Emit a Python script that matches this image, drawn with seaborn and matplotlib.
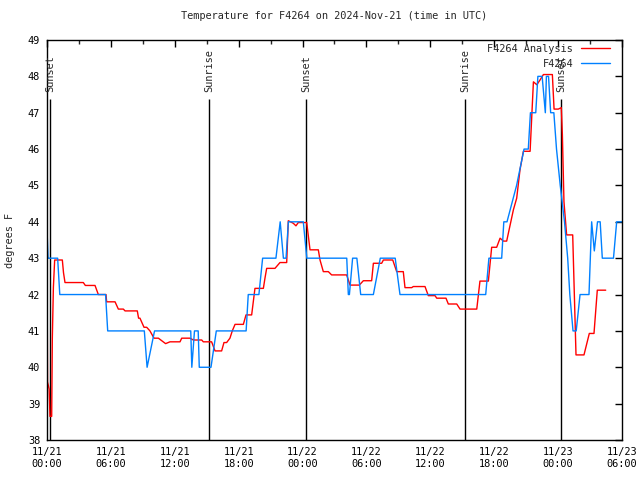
import matplotlib
matplotlib.use("Agg")
import matplotlib.pyplot as plt
import seaborn as sns
import pandas as pd

# ---- data (hours since 11/21 00:00 UTC) ----
analysis_hours = [0, 0.05, 0.2, 0.28, 0.44, 0.5, 0.6, 0.72, 1.44, 1.55, 1.69, 3.41, 3.6, 4.51, 4.82,
                  5.54, 5.6, 6.39, 6.7, 7.17, 7.33, 8.48, 8.6, 8.73, 9.11, 9.36, 9.67, 10.05, 10.46,
                  11.14, 11.55, 12.49, 12.65, 13.43, 13.74, 14.53, 14.68, 15.46, 15.78, 16.4, 16.62,
                  16.87, 17.18, 17.4, 17.66, 18.44, 18.69, 19.22, 19.53, 20.32, 20.47, 20.63, 21.41,
                  21.88, 22.51, 22.66, 23.13, 23.38, 23.6, 24.39, 24.7, 25.48, 25.64, 25.95, 26.42,
                  26.73, 28.14, 28.46, 29.33, 29.71, 30.49, 30.65, 31.43, 31.59, 32.47, 32.84, 33.46,
                  33.62, 34.25, 34.4, 35.5, 35.81, 36.44, 36.6, 37.47, 37.69, 38.48, 38.79, 40.36,
                  40.66, 41.45, 41.76, 42.23, 42.55, 42.86, 43.17, 43.8, 44.11, 44.42, 44.74, 45.37,
                  45.68, 46.0, 46.3, 46.62, 47.46, 47.62, 48.02, 48.3, 48.4, 48.55, 48.8, 49.37,
                  49.68, 50.43, 50.93, 51.37, 51.68, 52.47]
analysis_temps = [43.1, 39.6, 39.4, 38.65, 38.65, 40.8, 42.2, 42.95, 42.95, 42.6, 42.33, 42.33, 42.25,
                  42.25, 42.0, 42.0, 41.8, 41.8, 41.6, 41.6, 41.55, 41.55, 41.35, 41.35, 41.1, 41.1,
                  41.0, 40.8, 40.8, 40.65, 40.7, 40.7, 40.8, 40.8, 40.75, 40.75, 40.7, 40.7, 40.45,
                  40.45, 40.68, 40.68, 40.8, 41.0, 41.18, 41.18, 41.44, 41.44, 42.17, 42.17, 42.45,
                  42.72, 42.72, 42.88, 42.88, 44.03, 43.96, 43.89, 43.98, 43.98, 43.23, 43.23, 42.95,
                  42.63, 42.63, 42.54, 42.54, 42.26, 42.26, 42.38, 42.38, 42.86, 42.86, 42.95, 42.95,
                  42.63, 42.63, 42.19, 42.19, 42.22, 42.22, 41.97, 41.97, 41.9, 41.9, 41.74, 41.74,
                  41.6, 41.6, 42.37, 42.37, 43.3, 43.3, 43.55, 43.47, 43.47, 44.33, 44.65, 45.43,
                  45.94, 45.94, 47.85, 47.77, 47.9, 48.05, 48.05, 47.1, 47.1, 47.14, 46.4, 44.55,
                  43.64, 43.64, 40.34, 40.34, 40.93, 40.93, 42.12, 42.12]

obs_hours = [0, 0.1, 1.0, 1.2, 5.5, 5.7, 9.14, 9.4, 10.1, 13.5, 13.6, 13.85, 14.2, 14.3, 15.4, 15.9,
             18.7, 18.9, 19.9, 20.25, 21.5, 21.9, 22.2, 22.45, 22.67, 24.07, 24.4, 28.15, 28.3,
             28.4, 28.7, 29.1, 29.46, 30.65, 31.3, 32.7, 33.15, 41.2, 41.5, 42.7, 42.9, 43.2, 44.1,
             44.8, 45.2, 45.4, 45.9, 46.1, 46.5, 46.8, 46.9, 47.1, 47.3, 47.6, 47.85, 48.2, 48.6,
             48.9, 49.1, 49.4, 49.7, 50.06, 50.9, 51.15, 51.4, 51.7, 51.95, 52.15, 53.2, 53.5, 54.0]
obs_temps = [43.8, 43.0, 43.0, 42.0, 42.0, 41.0, 41.0, 40.0, 41.0, 41.0, 40.0, 41.0, 41.0, 40.0, 40.0,
             41.0, 41.0, 42.0, 42.0, 43.0, 43.0, 44.0, 43.0, 43.0, 44.0, 44.0, 43.0, 43.0, 42.0,
             42.0, 43.0, 43.0, 42.0, 42.0, 43.0, 43.0, 42.0, 42.0, 43.0, 43.0, 44.0, 44.0, 45.0,
             46.0, 46.0, 47.0, 47.0, 48.0, 48.0, 47.0, 48.0, 48.0, 47.0, 47.0, 46.0, 45.0, 44.0,
             43.0, 42.0, 41.0, 41.0, 42.0, 42.0, 44.0, 43.2, 44.0, 44.0, 43.0, 43.0, 44.0, 44.0]

sun_hours = [0.3, 15.24, 24.35, 39.28, 48.3]
sun_labels = ["Sunset", "Sunrise", "Sunset", "Sunrise", "Sunset"]

xtick_hours = [0, 6, 12, 18, 24, 30, 36, 42, 48, 54]
xtick_labels = ["11/21\n00:00", "11/21\n06:00", "11/21\n12:00", "11/21\n18:00", "11/22\n00:00",
                "11/22\n06:00", "11/22\n12:00", "11/22\n18:00", "11/23\n00:00", "11/23\n06:00"]
ytick_values = list(range(38, 50))

title = "Temperature for F4264 on 2024-Nov-21 (time in UTC)"

# ---- plotting ----
sns.set_style("white")
FS = 7.4
plt.rcParams["font.family"] = ["DejaVu Sans Mono"]
plt.rcParams["font.size"] = FS

df = pd.concat([
    pd.DataFrame({"hour": analysis_hours, "temp": analysis_temps, "series": "F4264 Analysis"}),
    pd.DataFrame({"hour": obs_hours, "temp": obs_temps, "series": "F4264"}),
])

fig = plt.figure(figsize=(6.4, 4.8), dpi=100)
ax = fig.add_axes([47 / 640, 1 - 440 / 480, 575 / 640, 400 / 480])

sns.lineplot(data=df, x="hour", y="temp", hue="series",
             palette={"F4264 Analysis": "#ff0000", "F4264": "#0080ff"},
             hue_order=["F4264 Analysis", "F4264"],
             linewidth=1.0, estimator=None, sort=False, ax=ax)

line_top = 47.38
for h, lab in zip(sun_hours, sun_labels):
    ax.vlines(h, 38, line_top, color="black", linewidth=1.0, zorder=1)
    ax.text(h, line_top + 0.2, lab, rotation=90, ha="center", va="bottom", fontsize=FS)

ax.set_xlim(0, 54)
ax.set_ylim(38, 49)
ax.set_xticks(xtick_hours)
ax.set_xticklabels(xtick_labels)
ax.set_xticks([h + 3 for h in xtick_hours[:-1]], minor=True)
ax.set_yticks(ytick_values)
ax.tick_params(axis="both", which="major", direction="in", length=5, width=1,
               top=True, right=True, labelsize=FS, colors="black", pad=5)
ax.tick_params(axis="x", which="minor", direction="in", length=3, width=1, top=True)
ax.set_xlabel("")
ax.set_ylabel("degrees F", fontsize=FS, labelpad=9)
ax.set_title(title, fontsize=FS, pad=15)
for s in ax.spines.values():
    s.set_color("black")
    s.set_linewidth(1.0)

leg = ax.legend(loc="upper right", bbox_to_anchor=(610 / 640, 1 - 44 / 480),
                bbox_transform=fig.transFigure, frameon=False, markerfirst=False,
                alignment="right", borderpad=0, borderaxespad=0, handlelength=2.8,
                handletextpad=0.8, labelspacing=0.45, fontsize=FS)
for lh in leg.get_lines():
    lh.set_linewidth(1.0)

fig.savefig("out.png", dpi=100)
